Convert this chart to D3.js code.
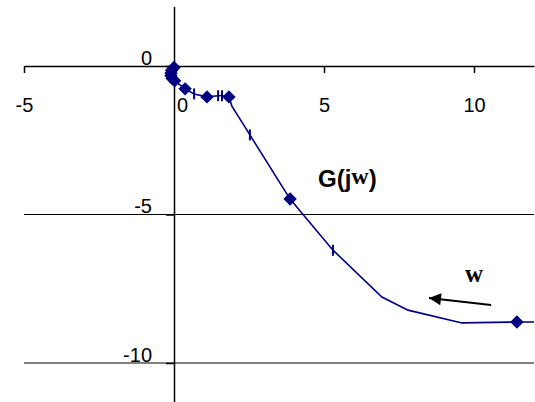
<!DOCTYPE html>
<html>
<head>
<meta charset="utf-8">
<script src="https://cdn.jsdelivr.net/npm/d3@7"></script>
<style>
  body { margin: 0; background: #fff; }
  svg { display: block; font-family: "Liberation Sans", Arial, sans-serif; }
</style>
</head>
<body>
<div class="container"></div>
<script>
// Nyquist points of G(jw)
var reVals = [0, -0.08, -0.1, -0.1, -0.06, 0.02, 0.37, 0.67, 1.1, 1.47, 1.6, 1.83, 1.93, 2.53, 3.87, 5.3, 6.93, 7.8, 9.6, 11.43, 12];
var imVals = [-0.05, -0.14, -0.24, -0.33, -0.42, -0.5, -0.77, -0.94, -1.04, -1.0, -1.0, -1.04, -1.35, -2.32, -4.48, -6.2, -7.78, -8.22, -8.65, -8.62, -8.62];
var markers = ["d", "d", "d", "d", "d", "d", "d", "t", "d", "t", "t", "d", "", "t", "d", "t", "", "", "", "d", ""];
var xTicks = [-5, 0, 5, 10];
var yTicks = [0, -5, -10];
var gridVals = [-5, -10];

var width = 535, height = 402;
var navy = "#000080";

var x = d3.scaleLinear().domain([-5, 12]).range([24, 534]);
var y = d3.scaleLinear().domain([2, -12]).range([6.6, 422.4]);

var svg = d3.select(".container").append("svg")
    .attr("width", width)
    .attr("height", height);

// gridlines
svg.selectAll(".grid")
    .data(gridVals)
    .enter()
    .append("line")
    .classed("grid", true)
    .attr("x1", x(-5))
    .attr("x2", x(12))
    .attr("y1", d => y(d))
    .attr("y2", d => y(d))
    .attr("stroke", "#000")
    .attr("stroke-width", 1.2);

// x axis on y = 0
var xAxis = svg.append("g")
    .attr("transform", "translate(0," + y(0) + ")")
    .call(d3.axisBottom(x).tickValues(xTicks).tickFormat(d => String(d)).tickSize(7).tickSizeOuter(0));
xAxis.select(".domain").attr("stroke-width", 1.5);
xAxis.selectAll(".tick line").attr("stroke-width", 1.5);
xAxis.selectAll("text")
    .attr("font-size", 20)
    .attr("font-family", "Liberation Sans, Arial, sans-serif")
    .attr("y", 46)
    .attr("dy", 0)
    .attr("dx", d => d == 0 ? 8 : 0);

// y axis on x = 0
var yAxis = svg.append("g")
    .attr("transform", "translate(" + x(0) + ",0)")
    .call(d3.axisLeft(y).tickValues(yTicks).tickFormat(d => String(d)).tickSize(8).tickSizeOuter(0).tickPadding(14));
yAxis.select(".domain").attr("stroke-width", 1.5);
yAxis.selectAll(".tick line").attr("stroke-width", 1.5);
yAxis.selectAll("text")
    .attr("font-size", 20)
    .attr("font-family", "Liberation Sans, Arial, sans-serif")
    .attr("dy", -2);

// the curve
var pts = reVals.map((d, i) => ({re: d, im: imVals[i], m: markers[i]}));
var line = d3.line().x(d => x(d.re)).y(d => y(d.im));
svg.append("path")
    .datum(pts)
    .attr("d", line)
    .attr("fill", "none")
    .attr("stroke", navy)
    .attr("stroke-width", 1.6);

svg.selectAll(".diamond")
    .data(pts.filter(d => d.m == "d"))
    .enter()
    .append("path")
    .classed("diamond", true)
    .attr("d", d3.symbol(d3.symbolSquare, 72))
    .attr("transform", d => "translate(" + x(d.re) + "," + y(d.im) + ") rotate(45)")
    .attr("fill", navy)
    .attr("stroke", navy);

svg.selectAll(".tickmark")
    .data(pts.filter(d => d.m == "t"))
    .enter()
    .append("line")
    .classed("tickmark", true)
    .attr("x1", d => x(d.re))
    .attr("x2", d => x(d.re))
    .attr("y1", d => y(d.im) - 5.5)
    .attr("y2", d => y(d.im) + 5.5)
    .attr("stroke", navy)
    .attr("stroke-width", 2);

// labels
var g = svg.append("text")
    .attr("x", x(4.8))
    .attr("y", y(-4.06))
    .attr("font-size", 24)
    .attr("font-weight", "bold");
g.append("tspan").text("G(j");
g.append("tspan")
    .attr("font-family", "Liberation Serif, Times New Roman, serif")
    .attr("dy", -3)
    .text("w");
g.append("tspan").attr("dy", 3).text(")");

svg.append("text")
    .attr("x", x(9.7))
    .attr("y", y(-7.28))
    .attr("font-size", 25)
    .attr("font-weight", "bold")
    .attr("font-family", "Liberation Serif, Times New Roman, serif")
    .text("w");

// arrow
svg.append("defs").append("marker")
    .attr("id", "head")
    .attr("viewBox", "0 0 10 10")
    .attr("refX", 10)
    .attr("refY", 5)
    .attr("markerWidth", 28)
    .attr("markerHeight", 12)
    .attr("markerUnits", "userSpaceOnUse")
    .attr("orient", "auto")
    .append("path")
    .attr("d", "M0,0L10,5L0,10Z")
    .attr("fill", "#000");

svg.append("line")
    .attr("x1", x(10.57))
    .attr("y1", y(-8.05))
    .attr("x2", x(8.5))
    .attr("y2", y(-7.81))
    .attr("stroke", "#000")
    .attr("stroke-width", 2)
    .attr("marker-end", "url(#head)");
</script>
</body>
</html>
